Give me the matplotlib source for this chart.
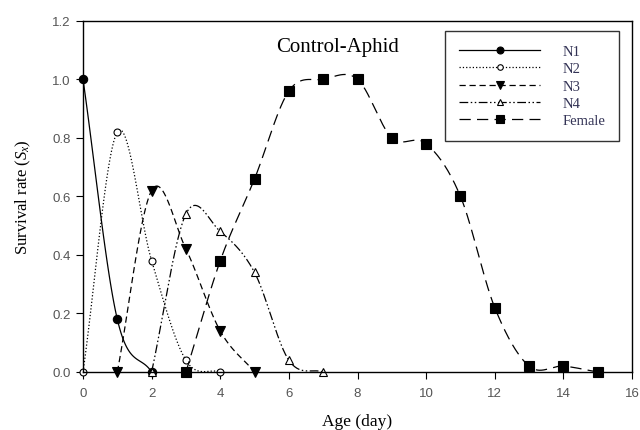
import numpy as np
import matplotlib
matplotlib.use('Agg')
import matplotlib.pyplot as plt

# survival rate by age (day)
n1_age = [0, 1, 2]
n1_sx = [1.0, 0.18, 0.0]
n2_age = [0, 1, 2, 3, 4]
n2_sx = [0.0, 0.82, 0.38, 0.04, 0.0]
n3_age = [1, 2, 3, 4, 5]
n3_sx = [0.0, 0.62, 0.42, 0.14, 0.0]
n4_age = [2, 3, 4, 5, 6, 7]
n4_sx = [0.0, 0.54, 0.48, 0.34, 0.04, 0.0]
female_age = [3, 4, 5, 6, 7, 8, 9, 10, 11, 12, 13, 14, 15]
female_sx = [0.0, 0.38, 0.66, 0.96, 1.0, 1.0, 0.8, 0.78, 0.6, 0.22, 0.02, 0.02, 0.0]

x_ticks = [0, 2, 4, 6, 8, 10, 12, 14, 16]
y_ticks = [0.0, 0.2, 0.4, 0.6, 0.8, 1.0, 1.2]


def smooth(x, y, n=30):
    # catmull-rom style curve through the points (like the sigmaplot spline)
    x = np.asarray(x, float)
    y = np.asarray(y, float)
    m = np.zeros_like(y)
    m[1:-1] = (y[2:] - y[:-2]) / (x[2:] - x[:-2])
    m[0] = (y[1] - y[0]) / (x[1] - x[0])
    m[-1] = (y[-1] - y[-2]) / (x[-1] - x[-2])
    xs, ys = [], []
    for i in range(len(x) - 1):
        h = x[i + 1] - x[i]
        t = np.linspace(0, 1, n, endpoint=False)
        h00 = 2 * t**3 - 3 * t**2 + 1
        h10 = t**3 - 2 * t**2 + t
        h01 = -2 * t**3 + 3 * t**2
        h11 = t**3 - t**2
        xs.append(x[i] + t * h)
        ys.append(h00 * y[i] + h10 * h * m[i] + h01 * y[i + 1] + h11 * h * m[i + 1])
    xs.append([x[-1]])
    ys.append([y[-1]])
    return np.concatenate(xs), np.concatenate(ys)


plt.rcParams['font.family'] = 'Liberation Serif'
plt.rcParams['mathtext.fontset'] = 'custom'
plt.rcParams['mathtext.rm'] = 'Liberation Serif'
plt.rcParams['mathtext.it'] = 'Liberation Serif:italic'
fig = plt.figure(figsize=(6.4, 4.31), dpi=100)
ax = fig.add_axes([0.1297, 0.1346, 0.8578, 0.815])

series = [
    ('N1', n1_age, n1_sx, '-', 'o', 'k', 6),
    ('N2', n2_age, n2_sx, ':', 'o', 'white', 5),
    ('N3', n3_age, n3_sx, (0, (5, 3)), 'v', 'k', 7),
    ('N4', n4_age, n4_sx, (0, (7, 2, 1.2, 2, 1.2, 2)), '^', 'white', 6),
    ('Female', female_age, female_sx, (0, (9, 5)), 's', 'k', 7),
]

for label, xa, ya, ls, mk, fc, ms in series:
    xs, ys = smooth(xa, ya)
    ax.plot(xs, ys, color='k', linestyle=ls, linewidth=0.9)
    ax.plot(xa, ya, linestyle='none', marker=mk, markerfacecolor=fc,
            markeredgecolor='k', markersize=ms, markeredgewidth=0.8, clip_on=False)
    ax.plot([], [], color='k', linestyle=ls, linewidth=0.9, marker=mk,
            markerfacecolor=fc, markeredgecolor='k', markersize=ms - 1,
            markeredgewidth=0.8, label=label)

ax.set_xlim(0, 16)
ax.set_ylim(0, 1.2)
ax.set_xticks(x_ticks)
ax.set_yticks(y_ticks)
ax.set_xticklabels([str(v) for v in x_ticks], family='Liberation Sans', fontsize=9.5, color='#555555')
ax.set_yticklabels(['%.1f' % v for v in y_ticks], family='Liberation Sans', fontsize=9.5, color='#555555')
ax.tick_params(direction='out', length=5, width=0.8)
ax.tick_params(axis='x', pad=6)
ax.tick_params(axis='y', pad=4)
for sp in ax.spines.values():
    sp.set_linewidth(1.0)

ax.set_xlabel('Age (day)', fontsize=12.5, labelpad=10)
ax.set_ylabel(r'Survival rate ($S_x$)', fontsize=12, labelpad=14)
ax.text(0.352, 0.915, 'Control-Aphid', transform=ax.transAxes, fontsize=15)

leg = ax.legend(loc='upper right', bbox_to_anchor=(0.9763, 0.9707), fontsize=10.5,
                frameon=True, fancybox=False, edgecolor='k', handlelength=5.6,
                handletextpad=1.5, borderpad=0.95, labelspacing=0.28,
                borderaxespad=0)
leg.get_frame().set_linewidth(1.0)
for t in leg.get_texts():
    t.set_color('#333355')

fig.savefig('out.png', dpi=100)
